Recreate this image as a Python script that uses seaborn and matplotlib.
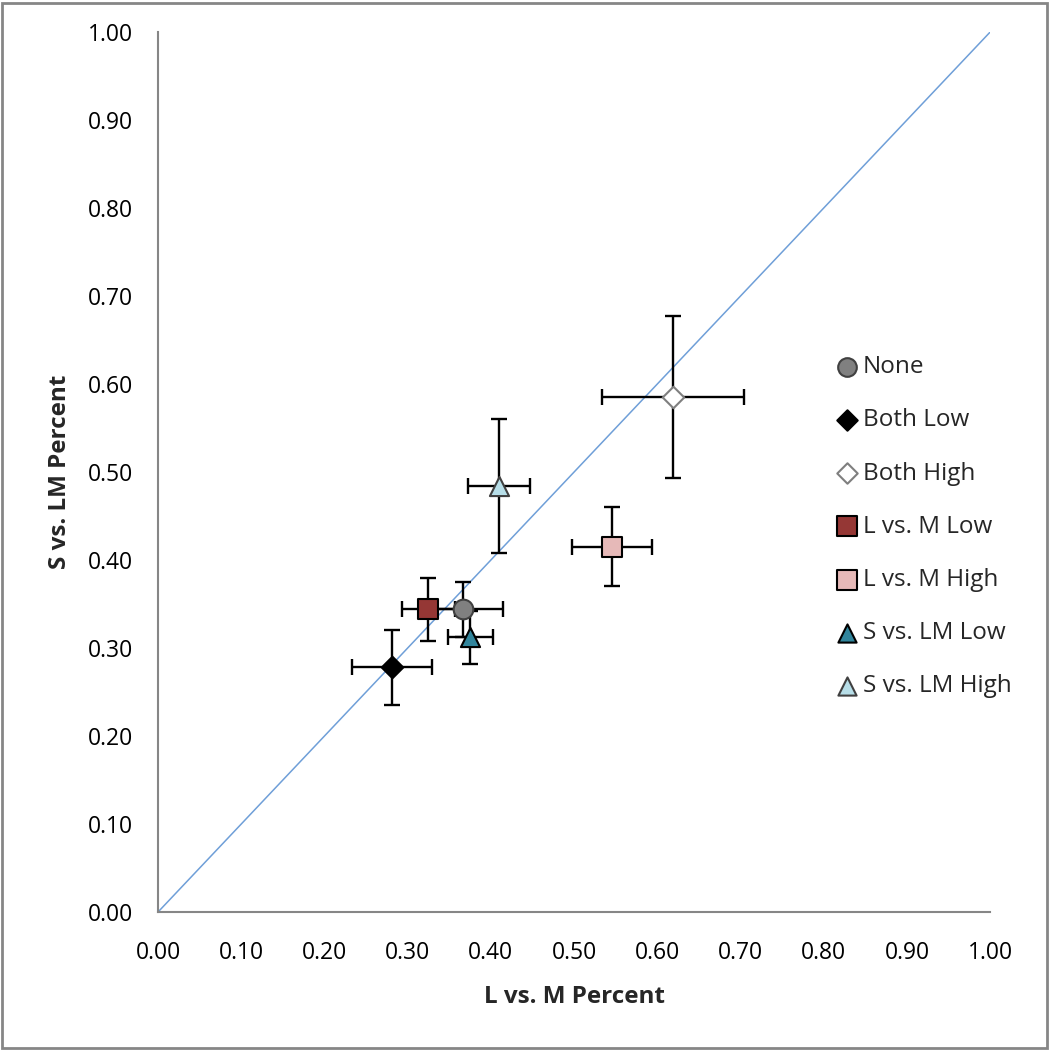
import matplotlib
matplotlib.use("Agg")
import matplotlib.pyplot as plt
import seaborn as sns
import pandas as pd
from matplotlib.patches import Rectangle

categories = ["None", "Both Low", "Both High", "L vs. M Low", "L vs. M High",
              "S vs. LM Low", "S vs. LM High"]
x_vals = [0.367, 0.281, 0.619, 0.325, 0.546, 0.375, 0.410]
y_vals = [0.344, 0.278, 0.585, 0.344, 0.415, 0.312, 0.484]
x_err = [0.048, 0.048, 0.085, 0.032, 0.048, 0.027, 0.037]
y_err = [0.031, 0.043, 0.092, 0.036, 0.045, 0.030, 0.076]

colors = ["#808080", "#000000", "#ffffff", "#953735", "#e6b9b8", "#31859c", "#b7dee8"]
edges = ["#404040", "#000000", "#7f7f7f", "#000000", "#000000", "#000000", "#404040"]
markers = ["o", "D", "D", "s", "s", "^", "^"]
msizes = [200, 120, 120, 220, 220, 190, 190]

df = pd.DataFrame({"cat": categories, "x": x_vals, "y": y_vals,
                   "xe": x_err, "ye": y_err})

sns.set_style("white")
plt.rcParams["font.family"] = ["Open Sans", "DejaVu Sans"]

fig = plt.figure(figsize=(10.5, 10.5), dpi=100)
ax = fig.add_axes([0.1505, 0.1314, 0.943 - 0.1505, 0.9695 - 0.1314])

ax.plot([0, 1], [0, 1], color="#6f9fd8", lw=1.1, zorder=1)

ax.errorbar(df["x"], df["y"], xerr=df["xe"], yerr=df["ye"], fmt="none",
            ecolor="black", elinewidth=1.7, capsize=5.5, capthick=1.7, zorder=2)

for i, c in enumerate(categories):
    sns.scatterplot(data=df[df["cat"] == c], x="x", y="y", ax=ax,
                    marker=markers[i], s=msizes[i], color=colors[i],
                    edgecolor=edges[i], linewidth=1.5, zorder=3, label=c)

ax.set_xlim(0, 1)
ax.set_ylim(0, 1)
ticks = [i / 10 for i in range(11)]
ax.set_xticks(ticks)
ax.set_yticks(ticks)
ax.set_xticklabels([f"{t:.2f}" for t in ticks])
ax.set_yticklabels([f"{t:.2f}" for t in ticks])
ax.tick_params(axis="both", direction="out", length=7, width=1.5, color="#868686",
               labelsize=16.5, labelcolor="#000000")
ax.tick_params(axis="y", pad=11)
ax.tick_params(axis="x", pad=14)
for s in ["top", "right"]:
    ax.spines[s].set_visible(False)
for s in ["left", "bottom"]:
    ax.spines[s].set_color("#868686")
    ax.spines[s].set_linewidth(1.5)

ax.set_xlabel("L vs. M Percent", fontsize=17.5, fontweight="bold", labelpad=14)
ax.set_ylabel("S vs. LM Percent", fontsize=17.5, fontweight="bold", labelpad=11)

leg = ax.legend(loc="upper left", bbox_to_anchor=(0.7855, 0.6575), frameon=False,
                fontsize=17.5, labelspacing=1.2, handletextpad=0.1,
                handlelength=1.1, markerscale=0.95)

fig.patches.append(Rectangle((0.002, 0.002), 0.995, 0.995, transform=fig.transFigure,
                             fill=False, edgecolor="#868686", linewidth=2))

fig.savefig("out.png", dpi=100, facecolor="white")
